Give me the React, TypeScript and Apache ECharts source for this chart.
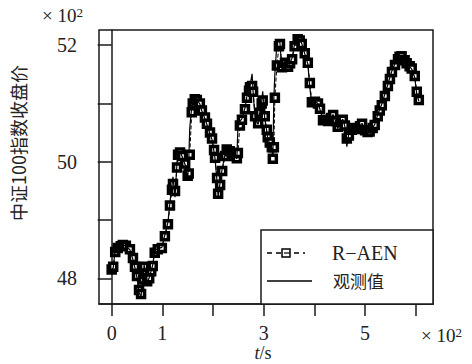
import React, { useEffect, useRef } from "react";
import * as echarts from "echarts";

const T = [0,3,7,12,18,22,28,36,42,46,50,54,58,62,64,68,70,74,78,81,85,91,99,105,111,115,119,121,125,129,131,135,139,145,150,152,154,158,160,164,168,174,178,184,188,194,198,202,204,208,210,214,218,224,227,233,237,243,247,249,253,257,263,267,271,273,277,279,283,289,293,296,298,302,306,308,312,316,318,320,322,326,330,332,336,342,348,352,356,361,367,371,375,381,387,391,395,401,407,411,417,423,427,433,437,442,446,452,456,460,464,468,474,480,484,490,494,500,505,509,515,519,525,529,533,539,545,549,553,559,565,568,572,578,582,588,592,598,602,606];

const OBS = [48.13,48.18,48.49,48.53,48.56,48.58,48.55,48.49,48.32,48.18,48.01,47.75,47.70,48.01,48.23,48.06,47.92,48.01,48.13,48.23,48.48,48.51,48.53,48.75,48.96,49.31,49.60,49.74,49.39,50.00,50.17,50.17,50.09,49.95,49.71,50.00,50.57,50.95,51.04,51.09,51.07,50.99,50.87,50.74,50.64,50.48,50.38,50.17,50.05,49.65,49.39,49.65,49.88,50.14,50.23,50.17,50.14,50.09,50.05,50.57,50.69,50.74,50.92,51.13,51.25,51.30,51.51,51.21,50.74,50.64,50.87,51.04,51.21,50.74,50.52,50.40,50.31,50.23,50.09,51.09,51.51,52.03,52.08,52.04,51.56,51.73,51.61,51.70,51.78,52.03,52.13,52.08,52.03,51.85,51.68,51.26,50.99,51.04,51.00,50.90,50.69,50.73,50.69,50.76,50.81,50.69,50.57,50.69,50.73,50.61,50.26,50.48,50.57,50.59,50.55,50.62,50.66,50.52,50.50,50.52,50.59,50.64,50.81,50.90,50.99,51.16,51.33,51.45,51.56,51.68,51.78,51.82,51.82,51.73,51.68,51.63,51.59,51.44,51.16,51.04];

const PRED = [48.15,48.20,48.45,48.52,48.55,48.57,48.56,48.50,48.35,48.20,48.04,47.80,47.73,47.98,48.20,48.08,47.95,48.00,48.12,48.21,48.44,48.50,48.52,48.72,48.93,49.25,49.52,49.62,49.50,49.90,50.12,50.16,50.10,49.97,49.76,49.80,50.12,50.85,51.00,51.07,51.06,51.00,50.88,50.76,50.65,50.50,50.40,50.20,50.07,49.72,49.45,49.60,49.84,50.10,50.21,50.18,50.15,50.10,50.06,50.15,50.62,50.72,50.90,51.10,51.22,51.28,51.30,51.20,50.78,50.66,50.84,51.00,51.05,50.78,50.55,50.42,50.33,50.25,50.05,50.25,51.10,51.65,51.98,52.02,51.62,51.70,51.63,51.69,51.76,51.98,52.10,52.08,52.02,51.86,51.70,51.35,51.02,51.03,51.00,50.91,50.71,50.72,50.70,50.75,50.80,50.70,50.60,50.68,50.72,50.62,50.40,50.45,50.55,50.58,50.56,50.61,50.65,50.54,50.51,50.52,50.58,50.63,50.78,50.88,50.97,51.13,51.30,51.42,51.54,51.66,51.76,51.80,51.81,51.74,51.69,51.64,51.60,51.47,51.20,51.06];

const X_TICKS = [0, 100, 200, 300, 400, 500, 600];
const X_LABELS = [0, 100, 300, 500];
const Y_TICKS = [48, 49, 50, 51, 52];
const Y_LABELS = [48, 50, 52];
const SERIES_NAMES = ["R−AEN", "观测值"];

const SERIF = "Liberation Serif";
const CJK = "Noto Sans CJK SC";
const INK = "#1a1a1a";
const TXT = "#222";

export default function App() {
  const ref = useRef<HTMLDivElement>(null);
  useEffect(() => {
    if (!ref.current) return;
    const chart = echarts.init(ref.current, undefined, { renderer: "svg" });
    const obs = T.map((t, i) => [t, OBS[i]]);
    const pred = T.map((t, i) => [t, PRED[i]]);
    const axisCommon = {
      axisLine: { show: true, lineStyle: { color: INK, width: 1.5 } },
      splitLine: { show: false },
    };
    const sup = {
      fontSize: 19, fontFamily: SERIF, fill: TXT,
      rich: {
        s: { fontSize: 13, fontFamily: SERIF, fill: TXT, verticalAlign: "top" },
      },
    };
    chart.setOption({
      animation: false,
      textStyle: { fontFamily: SERIF },
      grid: {
        left: 99, right: 39, top: 30, bottom: 60,
        show: true, borderColor: INK, borderWidth: 1.5,
      },
      xAxis: {
        type: "value", min: -25, max: 634,
        ...axisCommon,
        axisTick: { show: true, inside: false, length: 12, customValues: X_TICKS, lineStyle: { color: INK, width: 1.5 } },
        axisLabel: {
          customValues: X_LABELS,
          formatter: (v: number) => String(v / 100),
          fontSize: 20, fontFamily: SERIF, color: TXT, margin: 19,
        },
      },
      yAxis: {
        type: "value", min: 47.56, max: 52.26,
        ...axisCommon,
        axisTick: { show: true, inside: false, length: 14, customValues: Y_TICKS, lineStyle: { color: INK, width: 1.5 } },
        axisLabel: {
          customValues: Y_LABELS,
          formatter: (v: number) => String(v),
          fontSize: 20, fontFamily: SERIF, color: TXT, margin: 22,
        },
      },
      graphic: [
        { type: "rect", z: 5, shape: { x: 261, y: 230, width: 172, height: 74 }, style: { fill: "#fff", stroke: INK, lineWidth: 1.5 } },
        { type: "line", z: 6, shape: { x1: 267, y1: 253, x2: 305, y2: 253 }, style: { stroke: "#000", lineWidth: 1.5, lineDash: [5, 4] } },
        { type: "rect", z: 7, shape: { x: 282, y: 249, width: 8, height: 8 }, style: { fill: "#fff", stroke: "#000", lineWidth: 1.5 } },
        { type: "line", z: 8, shape: { x1: 284, y1: 253, x2: 290, y2: 253 }, style: { stroke: "#000", lineWidth: 1.2 } },
        { type: "line", z: 6, shape: { x1: 267, y1: 281, x2: 312, y2: 281 }, style: { stroke: "#000", lineWidth: 1.5 } },
        { type: "text", z: 6, x: 332, y: 253, style: { text: SERIES_NAMES[0], fontSize: 20, fontFamily: SERIF, fill: TXT, textVerticalAlign: "middle" } },
        { type: "text", z: 6, x: 333, y: 280, style: { text: SERIES_NAMES[1], fontSize: 17, fontFamily: CJK, fill: TXT, textVerticalAlign: "middle" } },
        { type: "text", x: 42, y: 6, style: { text: "× 10{s|2}", ...sup } },
        { type: "text", x: 421, y: 326, style: { text: "× 10{s|2}", ...sup } },
        {
          type: "text", x: 263, y: 353,
          style: {
            text: "{i|t}/s", fontSize: 18, fontFamily: SERIF, fill: TXT,
            textAlign: "center", textVerticalAlign: "middle",
            rich: { i: { fontStyle: "italic", fontSize: 18, fontFamily: SERIF, fill: TXT } },
          },
        },
        {
          type: "text", x: 18, y: 143, rotation: Math.PI / 2,
          style: { text: "中证100指数收盘价", fontSize: 18, fontFamily: CJK, fill: TXT, textAlign: "center", textVerticalAlign: "middle" },
        },
      ],
      series: [
        {
          name: SERIES_NAMES[0], type: "line", data: pred, z: 2,
          symbol: "rect", symbolSize: 7, showSymbol: true,
          itemStyle: { color: "#fff", borderColor: "#000", borderWidth: 3.5 },
          lineStyle: { color: "#000", width: 1, type: "dashed" },
        },
        {
          name: SERIES_NAMES[1], type: "line", data: obs, z: 3,
          symbol: "none", showSymbol: false,
          itemStyle: { color: "#000" },
          lineStyle: { color: "#000", width: 1.2 },
        },
      ],
    });
    return () => chart.dispose();
  }, []);
  return <div ref={ref} style={{ width: 472, height: 364, position: "absolute", left: 0, top: 0 }} />;
}
